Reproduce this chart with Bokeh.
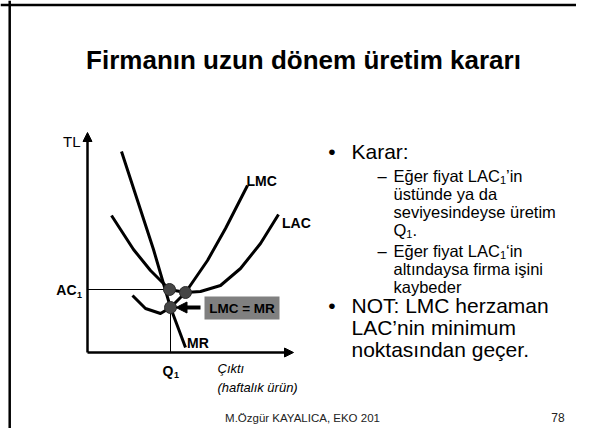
from bokeh.plotting import figure
from bokeh.models import Label, Arrow, NormalHead, Span, Range1d
from bokeh.embed import file_html
from bokeh.resources import INLINE

# ---------------- data (diagram units) ----------------
lac_q = [24, 46, 63, 82, 98, 113, 133, 153, 173, 191]
lac_p = [137, 103, 82, 63, 60, 61, 67, 84, 109, 138]
lmc_q = [45, 58, 73, 83, 98, 120, 138, 160]
lmc_p = [57, 44, 39, 45, 60, 92, 124, 167]
mr_q = [34, 66, 83, 98]
mr_p = [201, 103, 45, 5]
dot_q = [82, 98, 83]
dot_p = [63, 60, 45]
q1 = 83
ac1 = 63
q_axis_max = 206
p_axis_max = 220

title = "Firmanın uzun dönem üretim kararı"
footer = "M.Özgür KAYALICA, EKO 201"
page_no = "78"

FONT = "Liberation Sans"

# approximate Arial advance widths (per em) for placing subscripts
W = {' ': .278, "'": .191, '’': .222, '‘': .222, '.': .278, ',': .278, ':': .278,
     'A': .667, 'C': .722, 'E': .667, 'L': .556, 'Q': .778,
     'a': .556, 'e': .556, 'f': .278, 'g': .556, 'ğ': .556, 'i': .222, 'ı': .222,
     'n': .556, 'r': .333, 't': .278, 'y': .5, '1': .556}


def tw(s, size):
    return sum(W.get(c, .556) for c in s) * size


p = figure(width=576, height=428, x_range=Range1d(-87, 489), y_range=Range1d(-76, 352),
           x_axis_location=None, y_axis_location=None, toolbar_location=None,
           output_backend="svg", min_border=0, outline_line_color=None,
           background_fill_color="white", border_fill_color="white")
p.grid.visible = False

# slide frame (left and top edges)
p.add_layout(Span(location=-77.8, dimension="height", line_color="black", line_width=2.5))
p.add_layout(Span(location=347.5, dimension="width", line_color="black", line_width=2.5))


def lab(x, y, text, size, style="normal", align="left", baseline="middle", color="black"):
    p.add_layout(Label(x=x, y=y, text=text, text_font=FONT, text_font_size=f"{size}px",
                       text_font_style=style, text_align=align, text_baseline=baseline,
                       text_color=color))


# title
lab(216, 293, title, 26, "bold", "center")

# ---------------- diagram ----------------
p.add_layout(Arrow(end=NormalHead(size=9, fill_color="black", line_color="black"),
                   x_start=0, y_start=0, x_end=0, y_end=p_axis_max,
                   line_width=2.5, line_color="black"))
p.add_layout(Arrow(end=NormalHead(size=9, fill_color="black", line_color="black"),
                   x_start=0, y_start=0, x_end=q_axis_max, y_end=0,
                   line_width=2.5, line_color="black"))

p.line([0, dot_q[0]], [ac1, ac1], line_color="black", line_width=1)
p.line([q1, q1], [0, dot_p[2]], line_color="black", line_width=1)

p.line(lac_q, lac_p, line_color="black", line_width=3, line_join="round")
p.line(lmc_q, lmc_p, line_color="black", line_width=3, line_join="round")
p.line(mr_q, mr_p, line_color="black", line_width=3, line_join="round")

p.scatter(dot_q, dot_p, size=12, fill_color="#454545", line_color="#2a2a2a", line_width=1)

p.quad(left=[117], right=[192], bottom=[33], top=[56], fill_color="#808080", line_color=None)
lab(154.5, 44.5, "LMC = MR", 13.5, "bold", "center")
p.add_layout(Arrow(end=NormalHead(size=11, fill_color="black", line_color="black"),
                   x_start=113, y_start=dot_p[2], x_end=dot_q[2] + 5.5, y_end=dot_p[2],
                   line_width=4, line_color="black"))

lab(-7, 211, "TL", 15, "normal", "right")
lab(-11, ac1 - 0.5, "AC", 14, "bold", "right")
lab(-10.5, ac1 - 5, "1", 9, "bold", "left")
lab(q1 + 3, -18, "Q", 14, "bold", "right")
lab(q1 + 3.5, -22.5, "1", 9, "bold", "left")
lab(130, -16, "Çıktı", 13, "italic", "left")
lab(130, -34.5, "(haftalık ürün)", 13, "italic", "left")
lab(159, 172, "LMC", 14, "bold", "left")
lab(194.5, 130, "LAC", 14, "bold", "left")
lab(99.5, 10, "MR", 14, "bold", "left")

# ---------------- bullet text ----------------
L1 = 21
L2 = 16.5
SUB = 11
bx, tx1, dx, tx2 = 244.5, 264, 290, 306

lab(bx, 201, "•", L1, "normal", "center")
lab(tx1, 201, "Karar:", L1)

lab(dx, 177, "–", L2)
s = "Eğer fiyat LAC"
lab(tx2, 177, s, L2)
lab(tx2 + tw(s, L2), 173, "1", SUB)
lab(tx2 + tw(s, L2) + tw("1", SUB), 177, " ’in", L2)
lab(tx2, 159, "üstünde ya da", L2)
lab(tx2, 141, "seviyesindeyse üretim", L2)
lab(tx2, 123, "Q", L2)
lab(tx2 + tw("Q", L2), 119, "1", SUB)
lab(tx2 + tw("Q", L2) + tw("1", SUB), 123, ".", L2)

lab(dx, 102, "–", L2)
lab(tx2, 102, s, L2)
lab(tx2 + tw(s, L2), 98, "1", SUB)
lab(tx2 + tw(s, L2) + tw("1", SUB), 102, "‘in", L2)
lab(tx2, 84, "altındaysa firma işini", L2)
lab(tx2, 66, "kaybeder", L2)

lab(bx, 47, "•", L1, "normal", "center")
lab(tx1, 47, "NOT: LMC herzaman", L1)
lab(tx1, 25, "LAC’nin minimum", L1)
lab(tx1, 3, "noktasından geçer.", L1)

lab(215, -65.5, footer, 11.5, "normal", "center", color="#222222")
lab(470.5, -64.5, page_no, 12, "normal", "center", color="#222222")

open("out.html", "w").write(file_html(p, INLINE))
